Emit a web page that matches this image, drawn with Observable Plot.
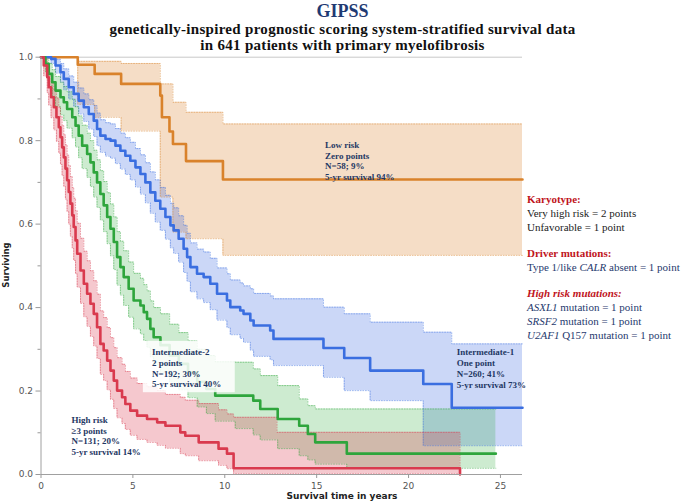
<!DOCTYPE html>
<html><head><meta charset="utf-8">
<script src="https://cdn.jsdelivr.net/npm/d3@7"></script>
<script src="https://cdn.jsdelivr.net/npm/@observablehq/plot@0.6"></script>
<style>
body{margin:0;background:#fff;}
#wrap{position:relative;width:685px;height:504px;overflow:hidden;background:#fff;}
#wrap svg{position:absolute;left:0;top:0;}
.t{position:absolute;white-space:nowrap;font-family:"Liberation Serif",serif;}
.hdr{color:#c0141c;font-weight:bold;}
.body1{color:#222;}
.body2{color:#1f3a6e;}
</style></head><body><div id="wrap"></div>
<script>
// ---------- data ----------
const titleText = "GIPSS";
const subtitleLines = ["genetically-inspired prognostic scoring system-stratified survival data", "in 641 patients with primary myelofibrosis"];
const xLabel = "Survival time in years";
const yLabel = "Surviving";
const xTicks = [0, 5, 10, 15, 20, 25];
const yTicks = [0, 0.2, 0.4, 0.6, 0.8, 1.0];
const yMinorTicks = [0.1, 0.3, 0.5, 0.7, 0.9];

// Low risk (orange)
const lowTime  = [0, 2.0, 2.92, 4.36, 6.49, 6.58, 6.99, 7.18, 7.89, 9.9, 26.2];
const lowSurv  = [1, 0.982, 0.960, 0.936, 0.908, 0.856, 0.822, 0.792, 0.751, 0.707, 0.707];
const lowLower = [1, 0.887, 0.856, 0.823, 0.665, 0.665, 0.665, 0.581, 0.565, 0.525, 0.525];
const lowUpper = [1, 0.990, 0.990, 0.985, 0.936, 0.936, 0.936, 0.892, 0.868, 0.840, 0.840];

// Intermediate-1 (blue)
const int1Time  = [0,0.55,0.79,1.06,1.24,1.51,1.78,2.05,2.33,2.60,2.87,3.05,3.23,3.51,3.78,4.05,4.32,4.59,4.86,5.14,5.41,5.68,5.95,6.22,6.49,6.77,7.04,7.22,7.49,7.76,7.95,8.13,8.49,8.85,9.21,9.58,10.12,10.30,10.84,11.02,11.39,11.57,12.47,12.65,15.37,16.50,17.91,20.80,22.35,26.2];
const int1Surv  = [1,0.996,0.980,0.964,0.948,0.928,0.912,0.896,0.880,0.864,0.848,0.828,0.812,0.804,0.800,0.788,0.776,0.764,0.752,0.736,0.720,0.700,0.676,0.656,0.637,0.617,0.597,0.585,0.565,0.541,0.521,0.497,0.481,0.473,0.457,0.433,0.417,0.401,0.393,0.385,0.369,0.357,0.345,0.325,0.303,0.279,0.249,0.217,0.160,0.160];
const int1Lower = [1,0.985,0.962,0.940,0.922,0.900,0.882,0.864,0.846,0.828,0.810,0.788,0.772,0.763,0.758,0.745,0.732,0.719,0.706,0.689,0.672,0.651,0.626,0.605,0.585,0.564,0.543,0.530,0.509,0.484,0.463,0.438,0.421,0.412,0.395,0.370,0.352,0.335,0.326,0.317,0.298,0.283,0.275,0.261,0.233,0.201,0.177,0.069,0.069,0.069];
const int1Upper = [1,1.000,0.995,0.985,0.972,0.955,0.940,0.926,0.912,0.898,0.884,0.866,0.850,0.843,0.840,0.829,0.818,0.807,0.796,0.781,0.766,0.747,0.725,0.706,0.688,0.669,0.650,0.639,0.620,0.597,0.578,0.555,0.540,0.533,0.518,0.495,0.481,0.466,0.459,0.452,0.445,0.434,0.428,0.421,0.401,0.385,0.365,0.341,0.313,0.313];

// Intermediate-2 (green)
const int2Time  = [0,0.24,0.42,0.61,0.79,1.06,1.24,1.42,1.70,1.88,2.05,2.24,2.51,2.69,2.87,3.05,3.23,3.41,3.60,3.78,3.96,4.14,4.32,4.50,4.77,5.04,5.41,5.59,5.77,5.95,6.13,6.50,7.00,7.50,8.00,8.50,9.00,9.48,10.57,11.55,11.93,12.88,14.05,14.52,14.92,16.64,24.75];
const int2Surv  = [1,0.984,0.960,0.940,0.920,0.904,0.892,0.876,0.856,0.836,0.812,0.788,0.768,0.748,0.724,0.700,0.672,0.645,0.617,0.589,0.557,0.521,0.497,0.473,0.445,0.417,0.405,0.389,0.373,0.349,0.329,0.310,0.285,0.265,0.245,0.222,0.205,0.189,0.189,0.177,0.157,0.133,0.117,0.097,0.077,0.050,0.050];
const int2Lower = [1,0.965,0.932,0.906,0.882,0.862,0.848,0.830,0.807,0.785,0.759,0.733,0.712,0.690,0.665,0.640,0.610,0.582,0.553,0.524,0.491,0.454,0.430,0.405,0.377,0.349,0.337,0.321,0.305,0.282,0.263,0.245,0.222,0.203,0.184,0.162,0.146,0.128,0.110,0.095,0.083,0.062,0.045,0.035,0.025,0.015,0.015];
const int2Upper = [1,1.000,0.985,0.970,0.954,0.940,0.930,0.917,0.899,0.881,0.859,0.837,0.818,0.800,0.777,0.754,0.728,0.702,0.675,0.648,0.617,0.582,0.559,0.536,0.509,0.482,0.470,0.455,0.440,0.416,0.400,0.385,0.360,0.340,0.320,0.300,0.285,0.270,0.269,0.253,0.237,0.213,0.181,0.165,0.157,0.157,0.157];

// High risk (red)
const highTime  = [0,0.15,0.34,0.42,0.55,0.70,0.84,0.97,1.06,1.15,1.24,1.33,1.42,1.51,1.60,1.70,1.78,1.88,1.97,2.15,2.33,2.51,2.69,2.87,3.05,3.23,3.41,3.60,3.78,3.96,4.14,4.41,4.59,4.86,5.23,5.77,6.32,6.77,7.58,7.85,8.58,9.66,10.12,10.48,12.84,22.80];
const highSurv  = [1,0.980,0.952,0.928,0.904,0.880,0.856,0.832,0.808,0.784,0.760,0.733,0.705,0.677,0.649,0.621,0.593,0.561,0.529,0.489,0.457,0.433,0.409,0.385,0.353,0.313,0.297,0.273,0.249,0.225,0.201,0.185,0.169,0.153,0.141,0.133,0.125,0.117,0.101,0.093,0.077,0.062,0.050,0.015,0.015,0.000];
const highLower = [1,0.955,0.915,0.885,0.855,0.826,0.798,0.770,0.743,0.716,0.690,0.660,0.630,0.600,0.571,0.542,0.513,0.481,0.449,0.410,0.378,0.355,0.331,0.308,0.278,0.240,0.225,0.203,0.180,0.158,0.136,0.122,0.108,0.094,0.084,0.077,0.070,0.063,0.050,0.045,0.033,0.022,0.014,0.002,0.002,0.000];
const highUpper = [1,0.995,0.980,0.960,0.942,0.922,0.902,0.880,0.858,0.836,0.814,0.790,0.765,0.740,0.714,0.688,0.662,0.632,0.602,0.566,0.535,0.512,0.488,0.464,0.432,0.392,0.376,0.352,0.328,0.304,0.280,0.264,0.247,0.231,0.218,0.210,0.201,0.192,0.185,0.178,0.170,0.155,0.145,0.137,0.101,0.000];

// in-plot annotations (anchored in data units)
const annotText = [
  "Low risk\nZero points\nN=58; 9%\n5-yr survival 94%",
  "Intermediate-1\nOne point\nN=260; 41%\n5-yr survival 73%",
  "Intermediate-2\n2 points\nN=192; 30%\n5-yr survival 40%",
  "High risk\n\u22653 points\nN=131; 20%\n5-yr survival 14%"
];
const annotTime = [15.46, 22.62, 6.04, 1.66];
const annotSurv = [0.7524, 0.2552, 0.2560, 0.0935];
const labelBox = {t1: 5.57, t2: 10.57, s1: 0.196, s2: 0.319};

// right-hand scoring legend
const legendGroups = [
  {head: "Karyotype:", italicHead: false, lines: ["Very high risk = 2 points", "Unfavorable = 1 point"], cls: "body1"},
  {head: "Driver mutations:", italicHead: false, lines: ["Type 1/like <i>CALR</i> absent = 1 point"], cls: "body2"},
  {head: "High risk mutations:", italicHead: true, lines: ["<i>ASXL1</i> mutation = 1 point", "<i>SRSF2</i> mutation = 1 point", "<i>U2AF1</i> Q157 mutation = 1 point"], cls: "body2"}
];

// ---------- build ----------
function rows(t, s, lo, hi) { return t.map((d, i) => ({t: d, s: s[i], lo: lo[i], hi: hi[i]})); }
const groups = [
  {data: rows(lowTime, lowSurv, lowLower, lowUpper), color: "#d9822b", band: "#d9822b", op: 0.27},
  {data: rows(int1Time, int1Surv, int1Lower, int1Upper), color: "#3a6ee0", band: "#2f5fe0", op: 0.25},
  {data: rows(int2Time, int2Surv, int2Lower, int2Upper), color: "#2ea53c", band: "#2eaa3c", op: 0.24},
  {data: rows(highTime, highSurv, highLower, highUpper), color: "#d93a4e", band: "#d9344a", op: 0.27}
];
const annots = annotText.map((d, i) => ({label: d, t: annotTime[i], s: annotSurv[i]}));

const marks = [];
marks.push(Plot.ruleY([1], {stroke: "#c8c8c8", strokeWidth: 1}));
for (const g of groups) {
  marks.push(Plot.areaY(g.data, {x: "t", y1: "lo", y2: "hi", curve: "step-after", fill: g.band, fillOpacity: g.op}));
}
for (const g of groups) {
  marks.push(Plot.lineY(g.data, {x: "t", y: "lo", curve: "step-after", stroke: g.color, strokeOpacity: 0.55, strokeWidth: 0.9, strokeDasharray: "1,1.6"}));
  marks.push(Plot.lineY(g.data, {x: "t", y: "hi", curve: "step-after", stroke: g.color, strokeOpacity: 0.55, strokeWidth: 0.9, strokeDasharray: "1,1.6"}));
}
for (const g of groups) {
  marks.push(Plot.lineY(g.data, {x: "t", y: "s", curve: "step-after", stroke: g.color, strokeWidth: 2.6}));
}
marks.push(Plot.rect([labelBox], {x1: "t1", x2: "t2", y1: "s1", y2: "s2", fill: "white", fillOpacity: 0.85}));
marks.push(Plot.text(annots, {x: "t", y: "s", text: "label", textAnchor: "start", lineAnchor: "middle", lineHeight: 1.2, fontSize: 9, fontWeight: "bold", fontFamily: "Liberation Serif", fill: "#1f3864"}));
marks.push(Plot.ruleX([0], {stroke: "#a0a0a0"}));
marks.push(Plot.ruleY([0], {stroke: "#a0a0a0"}));
marks.push(Plot.axisY({ticks: yTicks, tickFormat: d3.format(".1f"), tickSize: 5, tickPadding: 3, label: null, fontSize: 9, stroke: "#999", fill: "#555"}));
marks.push(Plot.axisY({ticks: yMinorTicks, tickFormat: () => "", tickSize: 3, label: null, stroke: "#999"}));
marks.push(Plot.axisX({ticks: xTicks, tickSize: 4, tickPadding: 4, label: null, fontSize: 9, stroke: "#999", fill: "#555"}));

const chart = Plot.plot({
  width: 685, height: 504,
  marginLeft: 40.5, marginRight: 163, marginTop: 56.7, marginBottom: 30,
  x: {domain: [0, 26.2]},
  y: {domain: [0, 1]},
  style: {fontFamily: "DejaVu Sans", background: "transparent", overflow: "visible"},
  marks
});
const wrap = document.getElementById("wrap");
wrap.appendChild(chart);

function addText(html, css, cls) {
  const el = document.createElement("div");
  el.className = "t" + (cls ? " " + cls : "");
  el.innerHTML = html;
  Object.assign(el.style, css);
  wrap.appendChild(el);
  return el;
}
// title (centred on the page)
addText(titleText, {left: "0px", width: "685px", textAlign: "center", top: "2px", fontSize: "18px", lineHeight: "18px", fontWeight: "bold", color: "#1f3a73"});
subtitleLines.forEach((s, i) => addText(s, {left: "0px", width: "685px", textAlign: "center", top: (21 + i * 16) + "px", fontSize: "15px", lineHeight: "16px", fontWeight: "bold", letterSpacing: "0.3px", color: "#111"}));
// axis labels
addText(xLabel, {left: "242px", width: "200px", textAlign: "center", top: "490px", fontSize: "9px", lineHeight: "12px", fontWeight: "bold", fontFamily: "DejaVu Sans", color: "#222"});
addText(yLabel, {left: "-44px", width: "100px", textAlign: "center", top: "259px", fontSize: "8.5px", lineHeight: "12px", fontWeight: "bold", fontFamily: "DejaVu Sans", color: "#222", transform: "rotate(-90deg)"});
// legend
let y = 192;
legendGroups.forEach(g => {
  addText(g.head, {left: "527px", top: y + "px", fontSize: "11px", lineHeight: "14px", fontStyle: g.italicHead ? "italic" : "normal"}, "hdr");
  y += 14;
  g.lines.forEach(l => { addText(l, {left: "527px", top: y + "px", fontSize: "11px", lineHeight: "14px"}, g.cls); y += 14; });
  y += 12;
});
</script>
</body></html>
